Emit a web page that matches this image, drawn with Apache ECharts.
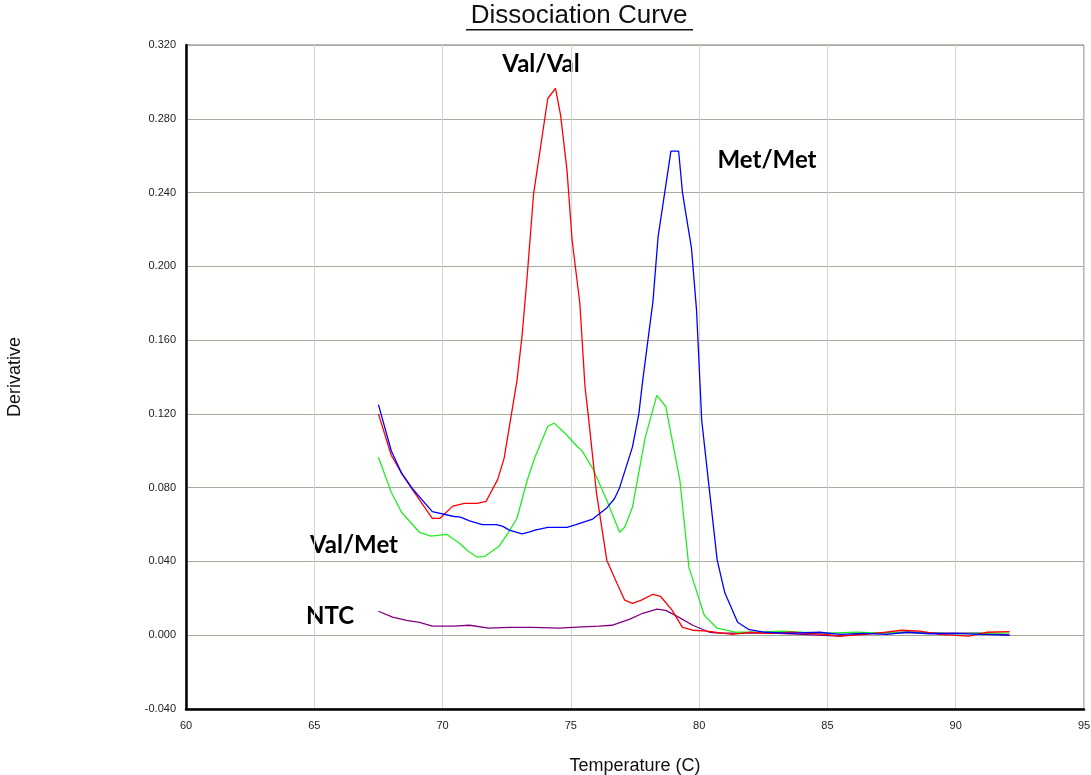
<!DOCTYPE html>
<html>
<head>
<meta charset="utf-8">
<script src="https://cdn.jsdelivr.net/npm/echarts@6/dist/echarts.min.js"></script>
<style>
  html, body { margin: 0; padding: 0; background: #fff; }
  #chart { width: 1091px; height: 775px; }
</style>
</head>
<body>
<div id="chart"></div>
<script>
// x tick labels and y range
var tempTicks = [60, 65, 70, 75, 80, 85, 90, 95];
var derivRange = [-0.04, 0.32];

// Met/Met (blue)
var metTemp = [67.5, 68.0, 68.4, 68.85, 69.6, 70.4, 70.7, 71.05, 71.55, 72.1, 72.35, 72.6, 73.1, 73.4, 73.6, 74.1, 74.85, 75.2, 75.85, 76.4, 76.7, 76.9, 77.4, 77.65, 77.8, 78.2, 78.4, 78.9, 79.2, 79.35, 79.7, 79.9, 80.1, 80.7, 81.0, 81.5, 81.95, 82.6, 83.5, 84.7, 85.5, 86.4, 87.3, 88.1, 89.0, 90.0, 91.0, 92.1];
var metDeriv = [0.125, 0.100, 0.088, 0.079, 0.067, 0.0645, 0.064, 0.062, 0.060, 0.060, 0.059, 0.057, 0.055, 0.056, 0.057, 0.0585, 0.0585, 0.060, 0.063, 0.069, 0.074, 0.080, 0.102, 0.120, 0.138, 0.181, 0.216, 0.2625, 0.2625, 0.240, 0.210, 0.176, 0.1165, 0.041, 0.023, 0.007, 0.003, 0.0016, 0.001, 0.0016, 0.0005, 0.001, 0.0005, 0.0016, 0.0008, 0.001, 0.0005, 0.0];

// Val/Val (red)
var valTemp = [67.5, 68.0, 68.45, 68.9, 69.6, 69.9, 70.4, 70.85, 71.35, 71.7, 72.15, 72.4, 72.9, 73.1, 73.3, 73.55, 74.1, 74.4, 74.6, 74.85, 75.05, 75.35, 75.55, 75.7, 76.0, 76.4, 76.8, 77.1, 77.4, 77.75, 78.2, 78.5, 78.95, 79.35, 79.75, 80.3, 81.3, 81.95, 82.7, 83.6, 84.95, 85.45, 86.5, 87.2, 87.9, 88.6, 89.35, 90.5, 91.2, 92.1];
var valDeriv = [0.120, 0.0976, 0.0867, 0.0775, 0.0634, 0.0634, 0.070, 0.0715, 0.0715, 0.0726, 0.0845, 0.096, 0.138, 0.1626, 0.195, 0.2396, 0.291, 0.2965, 0.282, 0.252, 0.214, 0.180, 0.135, 0.1165, 0.077, 0.0407, 0.028, 0.019, 0.0173, 0.019, 0.0222, 0.021, 0.0135, 0.0043, 0.0027, 0.0022, 0.0005, 0.0016, 0.001, 0.0016, 0.0005, -0.0005, 0.0005, 0.0016, 0.0027, 0.0022, 0.0005, -0.0005, 0.0016, 0.002];

// Val/Met (green)
var hetTemp = [67.5, 68.0, 68.4, 69.1, 69.55, 70.15, 70.65, 71.0, 71.35, 71.65, 72.2, 72.6, 72.9, 73.3, 73.6, 74.1, 74.35, 74.85, 75.2, 75.45, 75.85, 76.4, 76.9, 77.1, 77.4, 77.9, 78.35, 78.7, 79.25, 79.6, 80.2, 80.7, 81.45, 82.3, 83.25, 84.0, 84.95, 86.2, 87.0, 88.05, 89.0, 90.0, 91.0, 92.1];
var hetDeriv = [0.0965, 0.0775, 0.0667, 0.0558, 0.0537, 0.0547, 0.050, 0.0455, 0.0423, 0.0428, 0.0482, 0.0564, 0.0634, 0.084, 0.0965, 0.1133, 0.115, 0.1084, 0.103, 0.0997, 0.0905, 0.0732, 0.0558, 0.0585, 0.0694, 0.1073, 0.130, 0.124, 0.084, 0.0369, 0.0108, 0.0038, 0.0016, 0.0016, 0.0022, 0.0016, 0.0011, 0.0016, 0.0011, 0.0016, 0.0011, 0.0008, 0.0011, 0.0011];

// NTC (purple)
var ntcTemp = [67.5, 68.05, 68.6, 69.1, 69.6, 70.4, 71.05, 71.8, 72.6, 73.5, 74.55, 75.05, 76.1, 76.6, 77.3, 77.8, 78.35, 78.7, 79.2, 79.75, 80.4, 80.8, 82.85, 84.0, 85.45, 86.75, 88.3, 89.6, 90.9, 92.1];
var ntcDeriv = [0.013, 0.0098, 0.0081, 0.007, 0.0049, 0.0049, 0.0054, 0.0038, 0.0043, 0.0043, 0.0038, 0.0043, 0.0049, 0.0054, 0.0087, 0.0119, 0.0141, 0.0135, 0.0098, 0.0054, 0.0016, 0.0011, 0.0011, 0.0005, -0.0005, 0.0011, 0.0016, 0.0011, 0.0011, 0.0];

function zip(xs, ys) {
    return xs.map(function (x, i) { return [x, ys[i]]; });
}

var chart = echarts.init(document.getElementById('chart'));

function lineSeries(name, color, xs, ys) {
    return {
        name: name,
        type: 'line',
        data: zip(xs, ys),
        showSymbol: false,
        symbol: 'none',
        animation: false,
        lineStyle: { color: color, width: 1.3 }
    };
}

var option = {
    backgroundColor: '#fff',
    animation: false,
    grid: {
        left: 186, right: 7, top: 45, bottom: 66,
        containLabel: false,
        outerBoundsMode: 'none',
        show: true, borderColor: '#777', borderWidth: 1
    },
    xAxis: {
        type: 'value',
        min: tempTicks[0],
        max: tempTicks[tempTicks.length - 1],
        interval: 5,
        name: 'Temperature (C)',
        nameLocation: 'middle',
        nameGap: 48,
        nameTextStyle: { fontFamily: 'Liberation Sans', fontSize: 18, color: '#111' },
        axisLine: { show: true, onZero: false, lineStyle: { color: '#000', width: 2.5 } },
        axisTick: { show: false },
        axisLabel: { fontFamily: 'Liberation Sans', fontSize: 11, color: '#222', margin: 11 },
        splitLine: { show: true, lineStyle: { color: '#d4d4d4', width: 1 } }
    },
    yAxis: {
        type: 'value',
        min: derivRange[0],
        max: derivRange[1],
        interval: 0.04,
        name: 'Derivative',
        nameLocation: 'middle',
        nameGap: 162,
        nameRotate: 90,
        nameTextStyle: { fontFamily: 'Liberation Sans', fontSize: 18, color: '#111' },
        axisLine: { show: true, onZero: false, lineStyle: { color: '#000', width: 2.5 } },
        axisTick: { show: false },
        axisLabel: {
            fontFamily: 'Liberation Sans', fontSize: 11, color: '#222', margin: 10,
            formatter: function (v) { return v.toFixed(3); }
        },
        splitLine: { show: true, lineStyle: { color: '#a9a99d', width: 1.2 } }
    },
    series: [
        lineSeries('NTC', '#800080', ntcTemp, ntcDeriv),
        lineSeries('Val/Met', '#22ee22', hetTemp, hetDeriv),
        lineSeries('Val/Val', '#ff0000', valTemp, valDeriv),
        lineSeries('Met/Met', '#0000ff', metTemp, metDeriv)
    ],
    graphic: [
        {
            type: 'text', x: 579, y: 16,
            style: { text: 'Dissociation Curve', font: '26px "Liberation Sans"', fill: '#111', align: 'center', verticalAlign: 'middle' }
        },
        {
            type: 'rect', shape: { x: 466, y: 29, width: 227, height: 1.5 },
            style: { fill: '#111' }
        },
        {
            type: 'text', x: 541, y: 64,
            style: { text: 'Val/Val', font: 'bold 24px Lato', fill: '#000', align: 'center', verticalAlign: 'middle' }
        },
        {
            type: 'text', x: 767, y: 160,
            style: { text: 'Met/Met', font: 'bold 24px Lato', fill: '#000', align: 'center', verticalAlign: 'middle' }
        },
        {
            type: 'text', x: 354, y: 545,
            style: { text: 'Val/Met', font: 'bold 24px Lato', fill: '#000', align: 'center', verticalAlign: 'middle' }
        },
        {
            type: 'text', x: 330, y: 616,
            style: { text: 'NTC', font: 'bold 24px Lato', fill: '#000', align: 'center', verticalAlign: 'middle' }
        }
    ]
};

chart.setOption(option);
</script>
</body>
</html>
